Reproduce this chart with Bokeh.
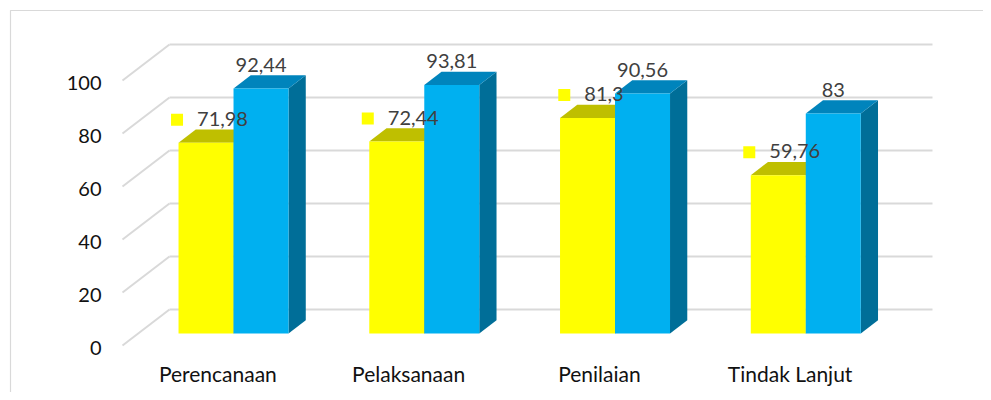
from bokeh.plotting import figure
from bokeh.models import Range1d
from bokeh.embed import file_html
from bokeh.resources import INLINE
from bokeh.core.properties import value

# ---------------- data ----------------
categories = ["Perencanaan", "Pelaksanaan", "Penilaian", "Tindak Lanjut"]
series_yellow = [71.98, 72.44, 81.3, 59.76]
series_blue = [92.44, 93.81, 90.56, 83]
y_ticks = [0, 20, 40, 60, 80, 100]

# ---------------- styles / geometry ----------------
W, H = 983, 392
WALL_LEFT_PX = 169      # back wall left edge (px)
CAT_PX = 190.75         # width of one category (px)
ZERO_PX = 309           # back wall zero line (px)
VAL_PX = 2.65           # px per value unit
FONT = "Lato"
FS = "20px"
FS_CAT = "21px"

def sx(px):
    return px / CAT_PX

def sy(px):
    return px / VAL_PX

DEPTH_DX = -sx(47)      # shift of the front plane vs back wall
DEPTH_DY = -sy(36)
D_FRONT = 0.667         # depth of bar front face
D_BACK = 0.30           # depth of bar back face
BW = sx(55)             # bar width

YEL = "#FFFF00"; YEL_TOP = "#BFBF00"; YEL_SIDE = "#9A9A00"
BLU = "#00B0F0"; BLU_TOP = "#0084BC"; BLU_SIDE = "#006E98"
GRID = "#D9D9D9"

p = figure(width=W, height=H,
           x_range=Range1d(-WALL_LEFT_PX / CAT_PX, (W - WALL_LEFT_PX) / CAT_PX),
           y_range=Range1d(-(H - ZERO_PX) / VAL_PX, ZERO_PX / VAL_PX),
           output_backend="svg", toolbar_location=None, min_border=0,
           x_axis_location=None, y_axis_location=None, outline_line_color=None)
p.background_fill_color = "white"
p.border_fill_color = "white"
p.xgrid.grid_line_color = None
p.ygrid.grid_line_color = None

# outer chart border (extends past right / bottom)
bl = sx(10 - WALL_LEFT_PX)
bt = sy(ZERO_PX - 10)
p.line(x=[bl, bl, sx(2000)], y=[-sy(2000), bt, bt], line_color=GRID, line_width=1.2)

n = len(categories)
# gridlines: back wall + left side wall
for v in y_ticks:
    p.line(x=[0, n], y=[v, v], line_color=GRID, line_width=2)
    p.line(x=[0, DEPTH_DX], y=[v, v + DEPTH_DY], line_color=GRID, line_width=2)

# y tick labels on the front plane
p.text(x=[DEPTH_DX - sx(21)] * len(y_ticks), y=[v + DEPTH_DY - sy(2) for v in y_ticks],
       text=[str(v) for v in y_ticks], text_font=value(FONT), text_font_size=value(FS),
       text_align="right", text_baseline="middle", text_color="#111111")

# category labels
p.text(x=[i + 0.5 + DEPTH_DX for i in range(n)], y=[DEPTH_DY - sy(28)] * n,
       text=categories, text_font=value(FONT), text_font_size=value(FS_CAT),
       text_align="center", text_baseline="middle", text_color="#111111")

# bars
shift_x = DEPTH_DX * D_FRONT
base_y = DEPTH_DY * D_FRONT
ddx = -DEPTH_DX * (D_FRONT - D_BACK)
ddy = -DEPTH_DY * (D_FRONT - D_BACK)

def bar_faces(xl, vals):
    fx, fy, tx, ty, sx_, sy_ = [], [], [], [], [], []
    for x0, v in zip(xl, vals):
        x1 = x0 + BW
        top = v + base_y
        fx.append([x0, x1, x1, x0]); fy.append([base_y, base_y, top, top])
        tx.append([x0, x1, x1 + ddx, x0 + ddx]); ty.append([top, top, top + ddy, top + ddy])
        sx_.append([x1, x1, x1 + ddx, x1 + ddx]); sy_.append([base_y, top, top + ddy, base_y + ddy])
    return fx, fy, tx, ty, sx_, sy_

centers = [i + 0.5 + shift_x for i in range(n)]
for xl, vals, cf, ct, cs in [([c - BW for c in centers], series_yellow, YEL, YEL_TOP, YEL_SIDE),
                             (centers, series_blue, BLU, BLU_TOP, BLU_SIDE)]:
    fx, fy, tx, ty, sxs, sys = bar_faces(xl, vals)
    p.patches(xs=sxs, ys=sys, fill_color=cs, line_color=None)
    p.patches(xs=tx, ys=ty, fill_color=ct, line_color=None)
    p.patches(xs=fx, ys=fy, fill_color=cf, line_color=None)

def fmt(v):
    return f"{v:g}".replace(".", ",")

# blue data labels
p.text(x=[c + BW / 2 for c in centers], y=[v + base_y + sy(24) for v in series_blue],
       text=[fmt(v) for v in series_blue], text_font=value(FONT), text_font_size=value(FS),
       text_align="center", text_baseline="middle", text_color="#404040")

# yellow data labels with legend key
ylab = [fmt(v) for v in series_yellow]
def est_w(s):
    return sum(5 if ch == "," else 11.5 for ch in s)
text_left = [c - BW / 2 + sx(16.5) - sx(est_w(s) / 2) for c, s in zip(centers, ylab)]
ly = [v + base_y + sy(24) for v in series_yellow]
p.text(x=text_left, y=ly, text=ylab, text_font=value(FONT), text_font_size=value(FS),
       text_align="left", text_baseline="middle", text_color="#404040")
p.scatter(x=[t - sx(20) for t in text_left], y=[y - sy(1) for y in ly], marker="square",
          size=12, fill_color=YEL, line_color=None)

open("out.html", "w").write(file_html(p, INLINE))
